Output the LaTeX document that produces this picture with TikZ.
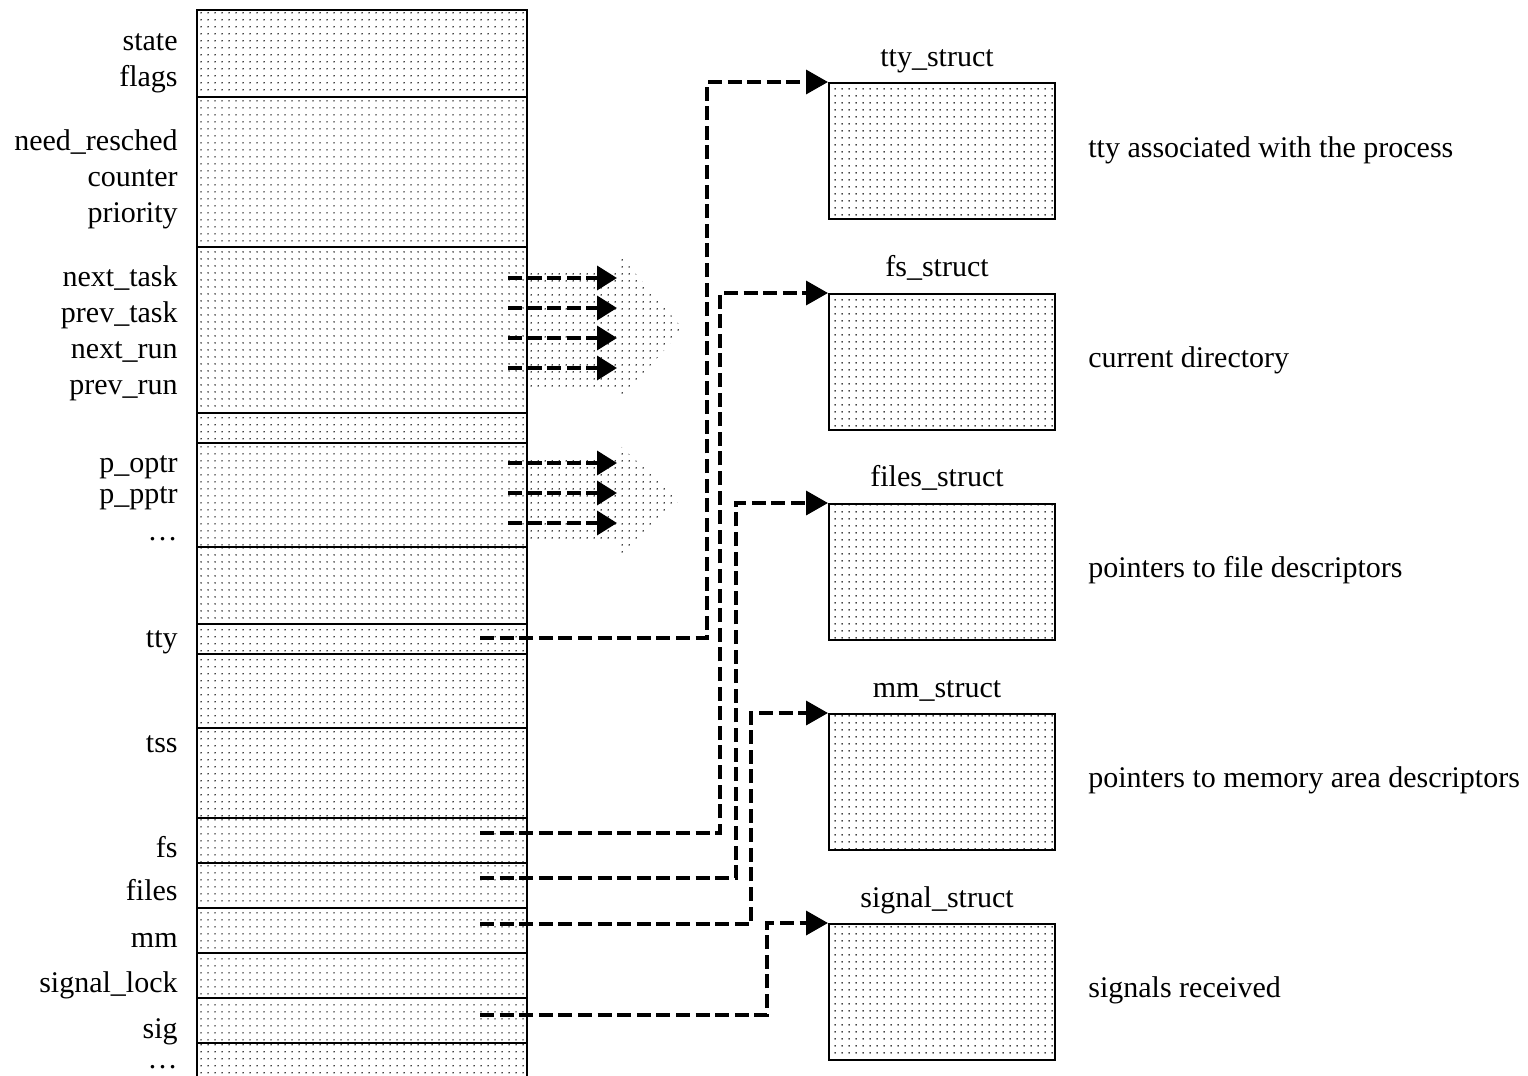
\documentclass[tikz,border=0pt]{standalone}
\usepackage{fontspec}
\setmainfont{Liberation Serif}
\usetikzlibrary{patterns,arrows.meta}
\pgfdeclarepatternformonly{sdots}{\pgfpointorigin}{\pgfqpoint{3.3pt}{3.3pt}}{\pgfqpoint{3.3pt}{3.3pt}}{%
  \pgfpathcircle{\pgfqpoint{1.65pt}{1.65pt}}{0.4pt}\pgfusepath{fill}}
\begin{document}
\begin{tikzpicture}[x=0.5pt,y=-0.5pt,
  field/.style={draw=black,line width=1pt,pattern=sdots},
  lbl/.style={font=\fontsize{15}{18}\selectfont,inner sep=0pt},
  ptr/.style={line width=1.8pt,dash pattern=on 7pt off 2.8pt,-{Triangle[length=11pt,width=12pt]}},
  structbox/.style={draw,line width=1pt,pattern=sdots,minimum width=113pt,minimum height=68pt,inner sep=0pt,anchor=north west},
  bigarrow/.style={pattern=sdots,draw=none}]
\useasboundingbox (0,0) rectangle (1528,1076);
% task_struct fields
\foreach \a/\b in {10/97,97/247,247/413,413/443,443/547,547/624,624/654,654/728,728/818,818/863,863/908,908/953,953/998,998/1043,1043/1100}
  \draw[field] (197,\a) rectangle (527,\b);
% field labels
\foreach \n/\y/\t in {state/50/state,flags/86/flags,needr/150/need\_resched,counter/186/counter,priority/222/priority,
  nexttask/286/next\_task,prevtask/322/prev\_task,nextrun/358/next\_run,prevrun/394/prev\_run,
  poptr/472/p\_optr,ppptr/503/p\_pptr,dotsa/540/\ldots,tty/647/tty,tss/752/tss,fs/857/fs,files/900/files,
  mm/947/mm,siglock/992/signal\_lock,sig/1038/sig,dotsb/1068/\ldots}
  \node[lbl,anchor=base east] (l-\n) at (178,\y) {\t};
% big dotted arrows
\path[bigarrow] (527,268) -- (618,268) -- (618,253) -- (683,329) -- (618,402) -- (618,387) -- (527,387) -- cycle;
\path[bigarrow] (527,457) -- (619,457) -- (619,445) -- (680,500) -- (619,556) -- (619,543) -- (527,543) -- cycle;
% list pointers
\foreach \n/\y in {nt/278,pt/308,nr/338,pr/368,op/463,pp/493,cp/523} {
  \coordinate (\n-s) at (508,\y);
  \coordinate (\n-e) at (617,\y);
  \draw[ptr,-{Triangle[length=10pt,width=12pt]}] (\n-s) -- (\n-e);
}
% right structures
\node[structbox] (ttys) at (828,82) {};
\node[structbox] (fss) at (828,293) {};
\node[structbox] (filess) at (828,503) {};
\node[structbox] (mms) at (828,713) {};
\node[structbox] (sigs) at (828,923) {};
\foreach \n/\y/\t in {ttyt/66/tty\_struct,fst/276/fs\_struct,filest/486/files\_struct,mmt/697/mm\_struct,sigt/907/signal\_struct}
  \node[lbl,anchor=base] (\n) at (937,\y) {\t};
\foreach \n/\y/\t in {ttyd/157/tty associated with the process,fsd/367/current directory,filesd/577/pointers to file descriptors,
  mmd/787/pointers to memory area descriptors,sigd/997/signals received}
  \node[lbl,anchor=base west] (\n) at (1088,\y) {\t};
% pointer connectors
\coordinate (ttyp) at (480,638);
\coordinate (fsp) at (480,833);
\coordinate (filesp) at (480,878);
\coordinate (mmp) at (480,924);
\coordinate (sigp) at (480,1015);
\draw[ptr] (ttyp) -| (707,82) -- (ttys.north west);
\draw[ptr] (fsp) -| (720,293) -- (fss.north west);
\draw[ptr] (filesp) -| (736,503) -- (filess.north west);
\draw[ptr] (mmp) -| (751,713) -- (mms.north west);
\draw[ptr] (sigp) -| (767,923) -- (sigs.north west);
\end{tikzpicture}
\end{document}
